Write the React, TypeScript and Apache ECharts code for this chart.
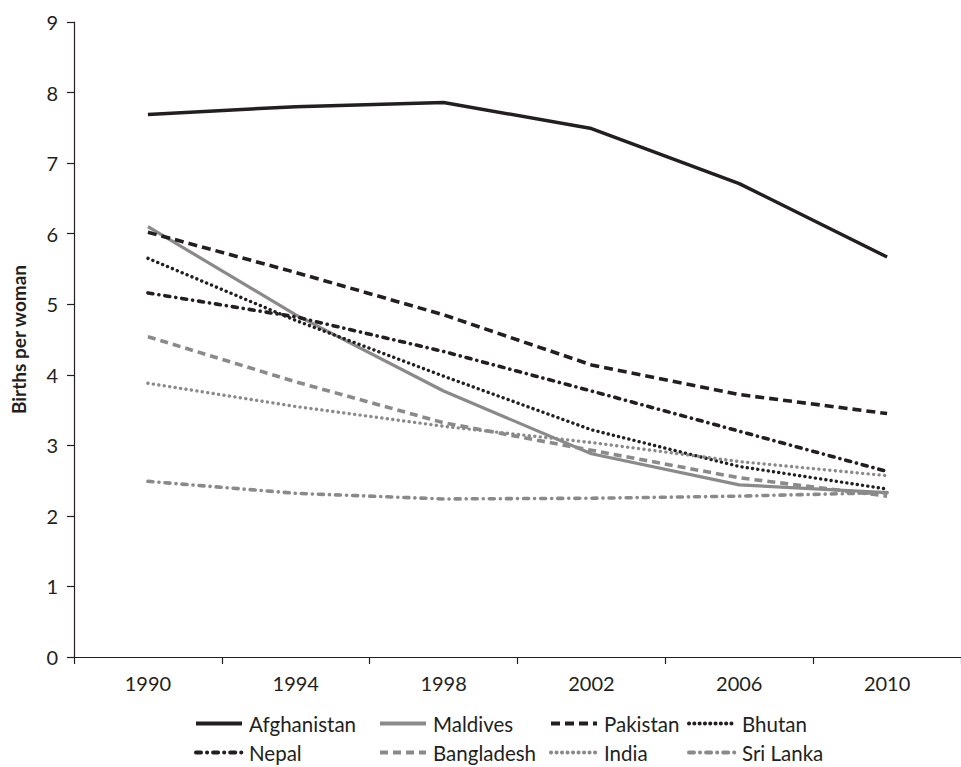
import React, { useEffect, useRef } from "react";
import * as echarts from "echarts";

const years = ["1990", "1994", "1998", "2002", "2006", "2010"];
const afghanistan = [7.69, 7.8, 7.86, 7.49, 6.71, 5.67];
const maldives = [6.1, 4.85, 3.77, 2.88, 2.44, 2.33];
const pakistan = [6.02, 5.45, 4.85, 4.14, 3.72, 3.45];
const bhutan = [5.65, 4.77, 3.98, 3.22, 2.7, 2.38];
const nepal = [5.16, 4.82, 4.33, 3.77, 3.2, 2.63];
const bangladesh = [4.54, 3.9, 3.32, 2.93, 2.54, 2.28];
const india = [3.88, 3.55, 3.27, 3.04, 2.77, 2.57];
const sriLanka = [2.49, 2.32, 2.24, 2.25, 2.28, 2.33];

const BLACK = "#231f20";
const GRAY = "#8a8a8a";
const FONT = "Lato";

type S = { name: string; data: number[]; color: string; width: number; type: any; cap: string };
const seriesDefs: S[] = [
  { name: "Afghanistan", data: afghanistan, color: BLACK, width: 3.5, type: "solid", cap: "butt" },
  { name: "Maldives", data: maldives, color: GRAY, width: 3.2, type: "solid", cap: "butt" },
  { name: "Pakistan", data: pakistan, color: BLACK, width: 3.6, type: [9, 5], cap: "butt" },
  { name: "Bhutan", data: bhutan, color: BLACK, width: 3.4, type: [0.1, 5.2], cap: "round" },
  { name: "Nepal", data: nepal, color: BLACK, width: 3.6, type: [5, 6, 0.1, 6], cap: "round" },
  { name: "Bangladesh", data: bangladesh, color: GRAY, width: 3.6, type: [8, 5], cap: "butt" },
  { name: "India", data: india, color: GRAY, width: 3.4, type: [0.1, 5.4], cap: "round" },
  { name: "Sri Lanka", data: sriLanka, color: GRAY, width: 3.6, type: [5, 6, 0.1, 6], cap: "round" },
];

const legendCols = [194, 378, 549, 687];
const legendRows = [713, 742];

export default function App() {
  const ref = useRef<HTMLDivElement>(null);
  useEffect(() => {
    if (!ref.current) return;
    const chart = echarts.init(ref.current, null, { renderer: "svg" });
    const legends = seriesDefs.map((s, i) => ({
      data: [s.name],
      left: legendCols[i % 4],
      top: legendRows[Math.floor(i / 4)],
      padding: 0,
      itemWidth: 46,
      itemHeight: 14,
      itemGap: 0,
      selectedMode: false,
      itemStyle: { opacity: 0, color: "transparent", borderColor: "transparent", borderWidth: 0 },
      lineStyle: { width: 4, cap: s.cap },
      textStyle: { fontSize: 20.5, color: BLACK, fontFamily: FONT, padding: [0, 0, 0, 2] },
    }));
    chart.setOption({
      animation: false,
      backgroundColor: "#ffffff",
      grid: { left: 74, top: 22, right: -7, bottom: 110, containLabel: false },
      legend: legends,
      xAxis: {
        type: "category",
        data: years,
        boundaryGap: true,
        axisLine: { show: true, lineStyle: { color: BLACK, width: 1.2 } },
        axisTick: { show: true, length: 7, lineStyle: { color: BLACK, width: 1.2 } },
        axisLabel: { fontSize: 20, color: BLACK, fontFamily: FONT, margin: 16 },
        splitLine: { show: false },
      },
      yAxis: {
        type: "value",
        min: 0,
        max: 9,
        interval: 1,
        name: "Births per woman",
        nameLocation: "middle",
        nameGap: 46,
        nameRotate: 90,
        nameTextStyle: { fontSize: 19, fontWeight: "bold", color: BLACK, fontFamily: FONT },
        axisLine: { show: true, lineStyle: { color: BLACK, width: 1.2 } },
        axisTick: { show: true, length: 7, lineStyle: { color: BLACK, width: 1.2 } },
        axisLabel: { fontSize: 20, color: BLACK, fontFamily: FONT, margin: 16 },
        splitLine: { show: false },
      },
      series: seriesDefs.map((s) => ({
        name: s.name,
        type: "line",
        data: s.data,
        symbol: "none",
        showSymbol: false,
        color: s.color,
        lineStyle: { color: s.color, width: s.width, type: s.type, cap: s.cap },
        emphasis: { disabled: true },
      })),
    });
    return () => chart.dispose();
  }, []);
  return (
    <div
      ref={ref}
      style={{ position: "absolute", left: 0, top: 0, width: 961, height: 767, background: "#fff" }}
    />
  );
}
